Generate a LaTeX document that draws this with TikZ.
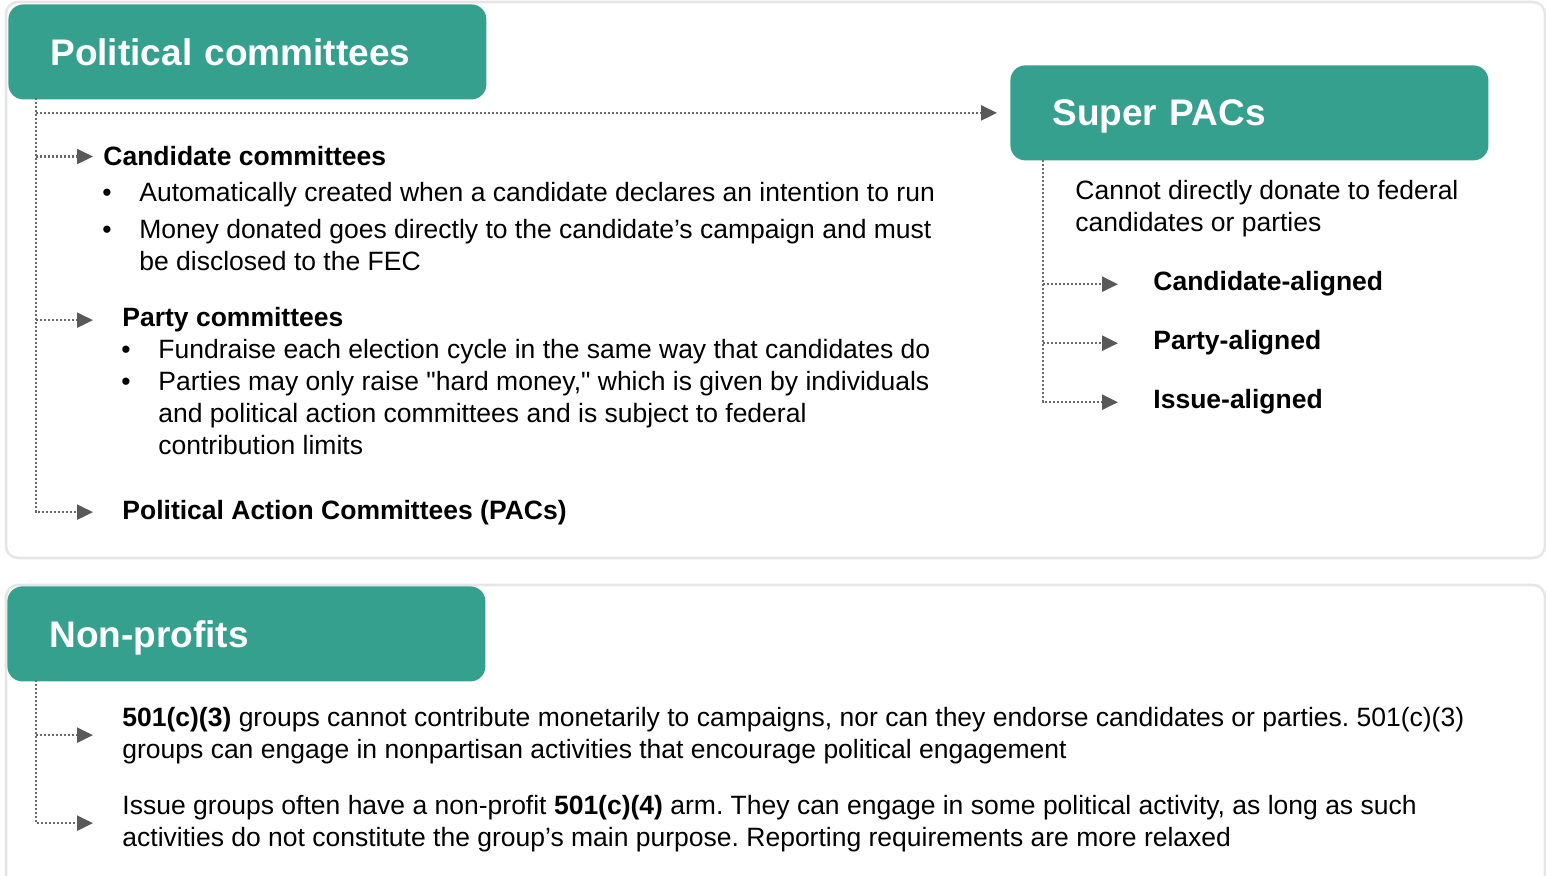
\documentclass[tikz,border=0pt]{standalone}
\usepackage{fontspec}
\setmainfont{Liberation Sans}
\usetikzlibrary{arrows.meta,positioning}
\frenchspacing

\definecolor{hdrgreen}{HTML}{36A08E}
\definecolor{tipgray}{HTML}{595959}
\definecolor{dotgray}{HTML}{6A6A6A}
\definecolor{panelgray}{HTML}{E6E6E6}

\tikzset{
    header/.style = {fill = hdrgreen, rounded corners = 7.5pt, text = white, anchor = north west,
        font = \bfseries\fontsize{18.5}{22}\selectfont, minimum width = 239pt, minimum height = 47.5pt,
        inner xsep = 21pt, inner ysep = 0pt, text width = 197pt, text depth = 0pt, align = left},
    body/.style = {anchor = base west, inner sep = 0pt, align = left, font = \fontsize{13.25}{16}\selectfont},
    item/.style = {body, font = \bfseries\fontsize{13.25}{16}\selectfont},
    link/.style = {draw = dotgray, line width = 1.15pt, dash pattern = on 1.15pt off 0.85pt,
        -{Triangle[length = 8pt, width = 7.5pt, fill = tipgray, color = tipgray]}},
    panel/.style = {draw = panelgray, line width = 1.3pt, rounded corners = 6pt}
}

\begin{document}
\begin{tikzpicture}[x = 0.5pt, y = -0.5pt]
    \useasboundingbox (0,0) rectangle (1546,876);
    \clip (0,0) rectangle (1546,876);
    % panels
    \draw[panel] (6,2) rectangle (1545,558);
    \draw[panel] (6,585) rectangle (1545,920);

    % headers
    \node[header] (pc) at (8,4) {Political committees};
    \node[header] (sp) at (1010,65) {Super PACs};
    \node[header] (np) at (7,586) {Non-profits};

    % political committees
    \node[item] (cand) at (103,166) {Candidate committees};
    \node[body] (b1) at (102,202) {•};
    \node[body] (t1) at (139,202) {Automatically created when a candidate declares an intention to run};
    \node[body] (b2) at (102,239) {•};
    \node[body] (t2) at (139,271) {Money donated goes directly to the candidate’s campaign and must\\be disclosed to the FEC};
    \node[item] (party) at (122,327) {Party committees};
    \node[body] (b3) at (121,359) {•};
    \node[body] (t3) at (158,359) {Fundraise each election cycle in the same way that candidates do};
    \node[body] (b4) at (121,391) {•};
    \node[body] (t4) at (158,455) {Parties may only raise \textquotedbl hard money,\textquotedbl{} which is given by individuals\\and political action committees and is subject to federal\\contribution limits};
    \node[item] (pacs) at (122,519) {Political Action Committees (PACs)};

    % super pacs
    \node[body] (spdesc) at (1075,232) {Cannot directly donate to federal\\candidates or parties};
    \node[item] (ca) at (1153,291) {Candidate-aligned};
    \node[item] (pa) at (1153,350) {Party-aligned};
    \node[item] (ia) at (1153,409) {Issue-aligned};

    % non-profits
    \node[body] (np1) at (122,758) {\textbf{501(c)(3)} groups cannot contribute monetarily to campaigns, nor can they endorse candidates or parties. 501(c)(3)\\groups can engage in nonpartisan activities that encourage political engagement};
    \node[body] (np2) at (122,846) {Issue groups often have a non-profit \textbf{501(c)(4)} arm. They can engage in some political activity, as long as such\\activities do not constitute the group’s main purpose. Reporting requirements are more relaxed};

    % spines
    \coordinate (pcspine) at (36,98);
    \coordinate (spspine) at (1043,160);
    \coordinate (npspine) at (36,680);

    \draw[link, shorten > = 6.5pt] (pcspine |- sp.west) -- (sp.west);
    \draw[link, shorten > = 5pt] (pcspine |- cand.west) -- (cand.west);
    \draw[link, shorten > = 14.5pt] (pcspine |- party.west) -- (party.west);
    \draw[link, shorten > = 14.5pt] (pcspine) |- (pacs.west);

    \draw[link, shorten > = 17.5pt] (spspine |- ca.west) -- (ca.west);
    \draw[link, shorten > = 17.5pt] (spspine |- pa.west) -- (pa.west);
    \draw[link, shorten > = 17.5pt] (spspine) |- (ia.west);

    \draw[link, shorten > = 14.5pt] (npspine |- np1.west) -- (np1.west);
    \draw[link, shorten > = 14.5pt] (npspine) |- (np2.west);
\end{tikzpicture}
\end{document}
